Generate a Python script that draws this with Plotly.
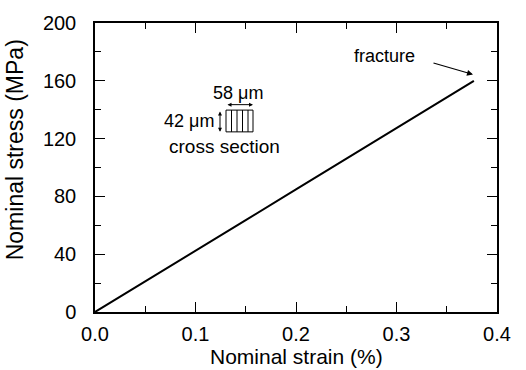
import plotly.graph_objects as go

strain = [0, 0.02, 0.06, 0.1, 0.15, 0.2, 0.25, 0.3, 0.35, 0.377]
stress = [0, 8.4, 25.3, 42.4, 63.6, 84.8, 106, 127.2, 148.4, 160]

x_ticks = [0.0, 0.1, 0.2, 0.3, 0.4]
x_ticklabels = ["0.0", "0.1", "0.2", "0.3", "0.4"]
y_ticks = [0, 40, 80, 120, 160, 200]
y_ticklabels = ["0", "40", "80", "120", "160", "200"]

FONT = "Liberation Sans, Arial, sans-serif"

# pixel -> data helpers for decorations
def px_x(p):
    return (p - 95) / 1005.0

def px_y(p):
    return (312 - p) / 1.46

fig = go.Figure()
fig.add_trace(go.Scatter(x=strain, y=stress, mode="lines",
                         line=dict(color="black", width=2), showlegend=False,
                         hoverinfo="skip"))

axis_common = dict(showgrid=False, zeroline=False, showline=True, linecolor="black",
                   linewidth=1.5, mirror="allticks", ticks="inside", ticklen=10,
                   tickwidth=1.2, tickcolor="black")

fig.update_xaxes(range=[0, 0.4], tickvals=x_ticks, ticktext=x_ticklabels,
                 minor=dict(ticks="inside", ticklen=6, tickwidth=1.2, dtick=0.05,
                            tickcolor="black", tick0=0),
                 tickfont=dict(family=FONT, size=20, color="black"),
                 ticklabelstandoff=3, **axis_common)
fig.update_yaxes(range=[0, 200], tickvals=y_ticks, ticktext=y_ticklabels,
                 minor=dict(ticks="inside", ticklen=6, tickwidth=1.2, dtick=20,
                            tickcolor="black", tick0=0),
                 tickfont=dict(family=FONT, size=20, color="black"),
                 ticklabelstandoff=13, **axis_common)

annotations = []
# axis titles
annotations.append(dict(text="Nominal strain (%)", xref="paper", yref="paper",
                        x=0.5, y=-58 / 292, xanchor="center", yanchor="bottom",
                        borderpad=0, showarrow=False,
                        font=dict(family=FONT, size=21, color="black")))
annotations.append(dict(text="Nominal stress (MPa)", xref="paper", yref="y",
                        x=-0.2, y=px_y(148), xanchor="center", yanchor="middle",
                        textangle=-90, showarrow=False,
                        font=dict(family=FONT, size=23, color="black")))
# fracture label + arrow
annotations.append(dict(text="fracture", x=px_x(384), y=px_y(53), xref="x", yref="y",
                        showarrow=False, font=dict(family=FONT, size=18, color="black")))
annotations.append(dict(text="", x=px_x(473), y=px_y(72), ax=px_x(432), ay=px_y(60),
                        xref="x", yref="y", axref="x", ayref="y", showarrow=True,
                        arrowhead=2, arrowsize=1, arrowwidth=1.2, arrowcolor="black"))
# cross-section labels
annotations.append(dict(text="58 \u03bcm", x=px_x(238), y=px_y(91), xref="x", yref="y",
                        showarrow=False, font=dict(family=FONT, size=18, color="black")))
annotations.append(dict(text="42 \u03bcm", x=px_x(216), y=px_y(119), xref="x", yref="y",
                        xanchor="right", showarrow=False,
                        font=dict(family=FONT, size=18, color="black")))
annotations.append(dict(text="cross section", x=px_x(224), y=px_y(145), xref="x", yref="y",
                        showarrow=False, font=dict(family=FONT, size=19, color="black")))
# double arrows
annotations.append(dict(text="", x=px_x(253), y=px_y(102.5), ax=px_x(226), ay=px_y(102.5),
                        xref="x", yref="y", axref="x", ayref="y", showarrow=True,
                        arrowhead=2, startarrowhead=2, arrowside="end+start",
                        arrowsize=0.8, startarrowsize=0.8, arrowwidth=1, arrowcolor="black"))
annotations.append(dict(text="", x=px_x(220), y=px_y(130), ax=px_x(220), ay=px_y(108),
                        xref="x", yref="y", axref="x", ayref="y", showarrow=True,
                        arrowhead=2, startarrowhead=2, arrowside="end+start",
                        arrowsize=0.8, startarrowsize=0.8, arrowwidth=1, arrowcolor="black"))

shapes = [dict(type="rect", xref="x", yref="y", x0=px_x(226), x1=px_x(253),
               y0=px_y(130), y1=px_y(108), line=dict(color="black", width=1))]
for p in [231.5, 237, 242.5, 248]:
    shapes.append(dict(type="line", xref="x", yref="y", x0=px_x(p), x1=px_x(p),
                       y0=px_y(130), y1=px_y(108), line=dict(color="black", width=1)))

fig.update_layout(width=526, height=370, margin=dict(l=95, r=29, t=20, b=58),
                  plot_bgcolor="white", paper_bgcolor="white",
                  annotations=annotations, shapes=shapes,
                  font=dict(family=FONT, color="black"))

fig.write_html("out.html")
